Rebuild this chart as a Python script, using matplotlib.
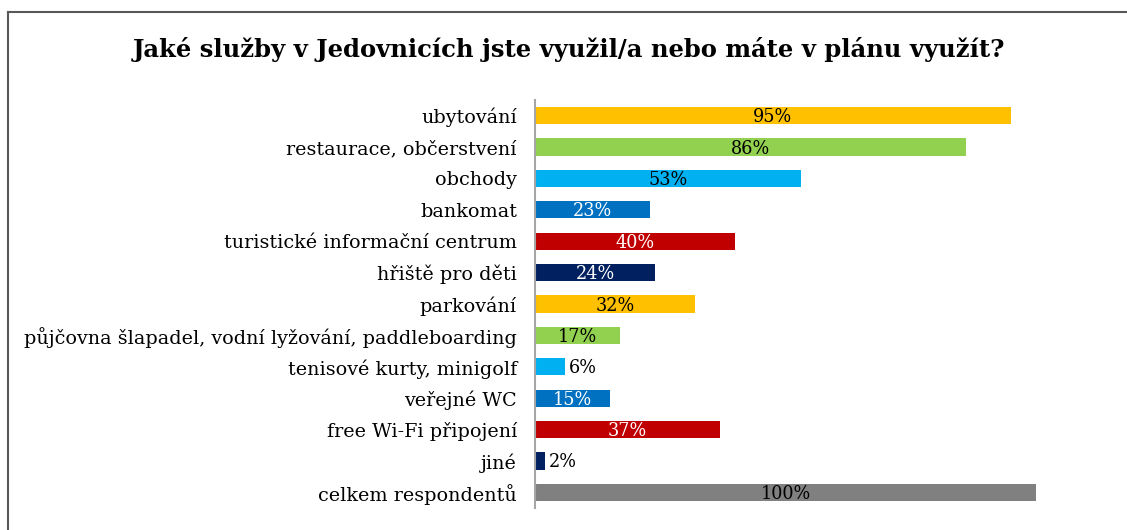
import matplotlib
matplotlib.use('Agg')
import matplotlib.pyplot as plt
from matplotlib.lines import Line2D

# data
kategorie = ['ubytování', 'restaurace, občerstvení', 'obchody', 'bankomat',
             'turistické informační centrum', 'hřiště pro děti', 'parkování',
             'půjčovna šlapadel, vodní lyžování, paddleboarding',
             'tenisové kurty, minigolf', 'veřejné WC', 'free Wi-Fi připojení',
             'jiné', 'celkem respondentů']
hodnoty = [95, 86, 53, 23, 40, 24, 32, 17, 6, 15, 37, 2, 100]
barvy = ['#FFC000', '#92D050', '#00B0F0', '#0070C0', '#C00000', '#002060',
         '#FFC000', '#92D050', '#00B0F0', '#0070C0', '#C00000', '#002060',
         '#808080']
barva_textu = ['black', 'black', 'black', 'white', 'white', 'white',
               'black', 'black', 'black', 'white', 'white', 'white', 'black']

plt.rcParams['font.family'] = ['DejaVu Serif']

fig = plt.figure(figsize=(11.27, 5.30), dpi=100)
ax = fig.add_axes([535 / 1127, 22 / 530, 501 / 1127, 408 / 530])

y = list(range(len(kategorie)))
ax.barh(y, hodnoty, height=0.55, color=barvy)
ax.set_ylim(len(kategorie) - 0.5, -0.5)
ax.set_xlim(0, 100)

for i, v in enumerate(hodnoty):
    if v < 10:
        ax.text(v + 0.7, i + 0.05, f'{v}%', va='center', ha='left',
                fontsize=12.7, color='black')
    else:
        ax.text(v / 2, i + 0.05, f'{v}%', va='center', ha='center',
                fontsize=12.7, color=barva_textu[i])

ax.set_yticks(y)
ax.set_yticklabels(kategorie, fontsize=13.8)
ax.tick_params(axis='y', length=0, pad=13)
ax.set_xticks([])
for s in ['top', 'right', 'bottom']:
    ax.spines[s].set_visible(False)
ax.spines['left'].set_color('#a6a6a6')
ax.spines['left'].set_linewidth(1.5)

fig.text(569 / 1127, 1 - 50 / 530,
         'Jaké služby v Jedovnicích jste využil/a nebo máte v plánu využít?',
         ha='center', va='center', fontsize=17.5, fontweight='bold')

# ramecek grafu
fig.add_artist(Line2D([8 / 1127, 8 / 1127], [0, 1 - 12 / 530],
                      transform=fig.transFigure, color='#595959', lw=1.5))
fig.add_artist(Line2D([8 / 1127, 1], [1 - 12 / 530, 1 - 12 / 530],
                      transform=fig.transFigure, color='#595959', lw=1.5))

fig.savefig('out.png', dpi=100)
